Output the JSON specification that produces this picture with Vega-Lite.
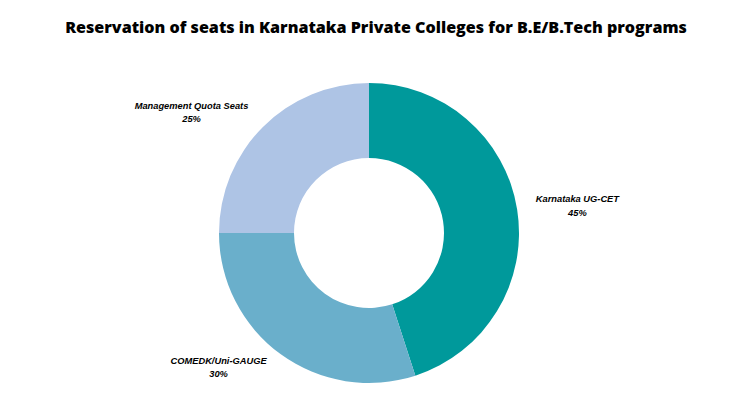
{
  "$schema": "https://vega.github.io/schema/vega-lite/v6.json",
  "width": 738,
  "height": 374,
  "padding": {"left": 0, "right": 12, "top": 46, "bottom": 0},
  "autosize": {"type": "none"},
  "background": "white",
  "title": {
    "text": "Reservation of seats in Karnataka Private Colleges for B.E/B.Tech programs",
    "font": "Open Sans",
    "fontSize": 16.1,
    "fontWeight": 800,
    "color": "black",
    "anchor": "middle",
    "dx": 7,
    "offset": 2
  },
  "view": {"stroke": null},
  "data": {
    "values": [
      {"category": "Karnataka UG-CET", "value": 45, "order": 1},
      {"category": "COMEDK/Uni-GAUGE", "value": 30, "order": 2},
      {"category": "Management Quota Seats", "value": 25, "order": 3}
    ]
  },
  "transform": [
    {"calculate": "datum.category + '\\n' + datum.value + '%'", "as": "label"}
  ],
  "encoding": {
    "theta": {"field": "value", "type": "quantitative", "stack": true},
    "order": {"field": "order", "type": "quantitative"}
  },
  "layer": [
    {
      "mark": {"type": "arc", "outerRadius": 150, "innerRadius": 75},
      "encoding": {
        "color": {
          "field": "category",
          "type": "nominal",
          "scale": {
            "domain": ["Karnataka UG-CET", "COMEDK/Uni-GAUGE", "Management Quota Seats"],
            "range": ["#00999b", "#6aafcb", "#aec4e5"]
          },
          "legend": null
        }
      }
    },
    {
      "mark": {"type": "text", "radius": 210, "dx": 1, "dy": -1, "font": "Liberation Sans", "fontSize": 9.3, "fontStyle": "italic", "fontWeight": "bold", "lineBreak": "\n", "lineHeight": 13.5, "color": "black"},
      "encoding": {"text": {"condition": {"test": "datum.order == 1", "field": "label"}, "value": ""}}
    },
    {
      "mark": {"type": "text", "radius": 210, "dx": -27, "dy": -42, "font": "Liberation Sans", "fontSize": 9.3, "fontStyle": "italic", "fontWeight": "bold", "lineBreak": "\n", "lineHeight": 13.5, "color": "black"},
      "encoding": {"text": {"condition": {"test": "datum.order == 2", "field": "label"}, "value": ""}}
    },
    {
      "mark": {"type": "text", "radius": 210, "dx": -29, "dy": 21, "font": "Liberation Sans", "fontSize": 9.3, "fontStyle": "italic", "fontWeight": "bold", "lineBreak": "\n", "lineHeight": 13.5, "color": "black"},
      "encoding": {"text": {"condition": {"test": "datum.order == 3", "field": "label"}, "value": ""}}
    }
  ]
}
